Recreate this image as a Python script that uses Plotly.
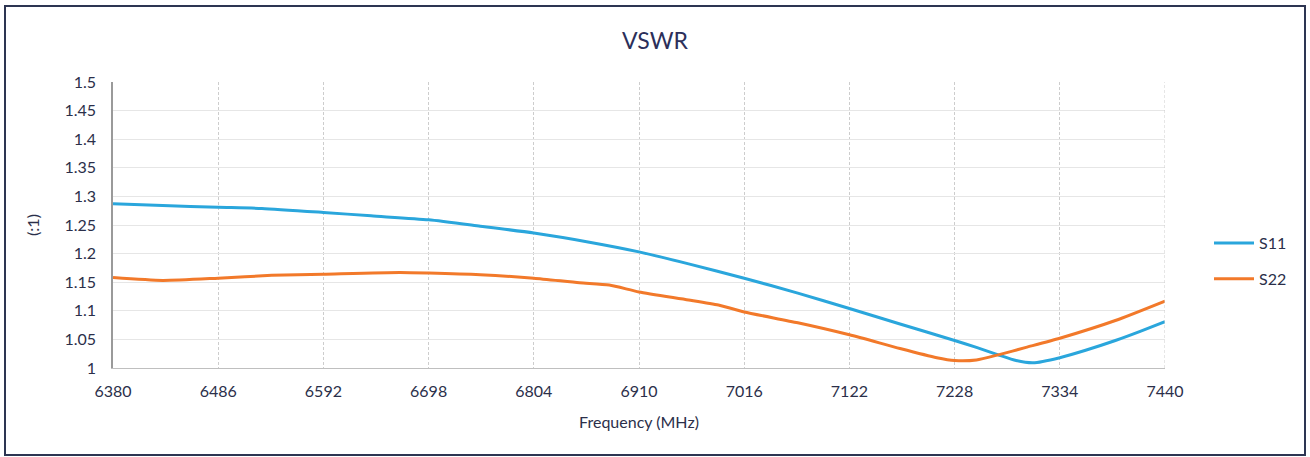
import plotly.graph_objects as go

# Frequency (MHz) sample points and VSWR values
s11_freq = [6380, 6430, 6486, 6530, 6592, 6640, 6698, 6750, 6804, 6860, 6910, 6960,
            7016, 7070, 7122, 7173, 7228, 7250, 7272, 7290, 7307, 7334, 7360, 7390, 7415, 7440]
s11_vswr = [1.287, 1.284, 1.281, 1.279, 1.272, 1.266, 1.259, 1.248, 1.236, 1.220, 1.203, 1.182,
            1.157, 1.131, 1.104, 1.077, 1.048, 1.036, 1.023, 1.013, 1.009, 1.018, 1.031, 1.048, 1.064, 1.081]

s22_freq = [6380, 6430, 6486, 6540, 6592, 6669, 6698, 6750, 6804, 6850, 6880, 6910, 6960,
            6990, 7016, 7070, 7122, 7173, 7210, 7228, 7250, 7272, 7300, 7334, 7390, 7440]
s22_vswr = [1.158, 1.153, 1.157, 1.162, 1.164, 1.167, 1.166, 1.163, 1.157, 1.149, 1.145, 1.133, 1.119,
            1.110, 1.098, 1.079, 1.058, 1.034, 1.018, 1.013, 1.014, 1.023, 1.036, 1.052, 1.083, 1.117]

x_ticks = [6380, 6486, 6592, 6698, 6804, 6910, 7016, 7122, 7228, 7334, 7440]
y_ticks = [1.0, 1.05, 1.1, 1.15, 1.2, 1.25, 1.3, 1.35, 1.4, 1.45, 1.5]
y_tick_text = ["1", "1.05", "1.1", "1.15", "1.2", "1.25", "1.3", "1.35", "1.4", "1.45", "1.5"]

font_family = "Lato, Open Sans, sans-serif"
text_color = "#2b2f4a"

fig = go.Figure()
fig.add_trace(go.Scatter(x=s11_freq, y=s11_vswr, mode="lines", name="S11", legendgroup="a",
                         line=dict(color="#2aa6dc", width=3, shape="spline", smoothing=0.6)))
fig.add_trace(go.Scatter(x=s22_freq, y=s22_vswr, mode="lines", name="S22", legendgroup="b",
                         line=dict(color="#f2792a", width=3, shape="spline", smoothing=0.6)))

W, H = 1310, 457
ml, mr, mt, mb = 113, 145, 82, 89
pw, ph = W - ml - mr, H - mt - mb

def px(xp):
    return (xp - ml) / pw

def py(yp):
    return (H - mb - yp) / ph

fig.update_layout(
    width=W, height=H,
    margin=dict(l=ml, r=mr, t=mt, b=mb, autoexpand=False),
    paper_bgcolor="white", plot_bgcolor="white",
    font=dict(family=font_family, size=16, color=text_color),
    title=dict(text="VSWR", x=0.5, xanchor="center", y=1 - 41 / H, yanchor="middle",
               font=dict(size=23, color="#2c2f5a")),
    showlegend=True,
    legend=dict(x=px(1209), y=py(261), xanchor="left", yanchor="middle",
                font=dict(size=16, color=text_color), tracegroupgap=12,
                traceorder="grouped", bgcolor="rgba(0,0,0,0)", itemwidth=40),
    xaxis=dict(range=[6380, 7440], tickvals=x_ticks, ticktext=[str(v) for v in x_ticks],
               showgrid=True, gridcolor="#cdcdcd", griddash="3px,2px", gridwidth=1,
               showline=True, linecolor="#bfbfbf", linewidth=1, zeroline=False,
               ticks="", ticklabelstandoff=9, automargin=False,
               title=dict(text="Frequency (MHz)", font=dict(size=16, color=text_color), standoff=17)),
    yaxis=dict(range=[1.0, 1.5], tickvals=y_ticks, ticktext=y_tick_text,
               showgrid=True, gridcolor="#e6e6e6", gridwidth=1,
               showline=True, linecolor="#9a9a9a", linewidth=1.5, zeroline=False,
               ticks="", ticklabelstandoff=12, automargin=False,
               title=dict(text="(:1)", font=dict(size=16, color=text_color), standoff=21)),
    shapes=[dict(type="rect", xref="paper", yref="paper",
                 x0=px(5), x1=px(1305), y0=py(455), y1=py(6),
                 line=dict(color="#2d3552", width=2), fillcolor="rgba(0,0,0,0)", layer="below"),
            dict(type="line", xref="x", yref="paper", x0=7440, x1=7440, y0=0, y1=1,
                 line=dict(color="#cdcdcd", width=1, dash="3px,2px"))],
)

fig.write_html("out.html", config={"displayModeBar": False},
               post_script="document.body.style.margin='0';document.body.style.overflow='hidden';")
